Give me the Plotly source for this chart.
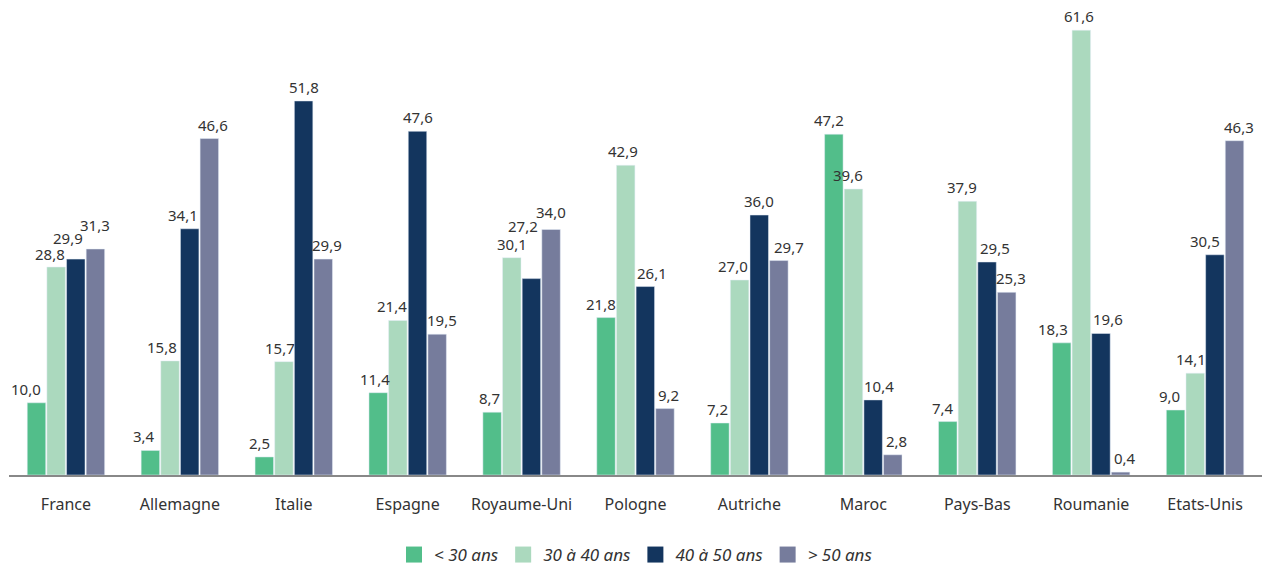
import plotly.graph_objects as go

countries = ["France", "Allemagne", "Italie", "Espagne", "Royaume-Uni", "Pologne",
             "Autriche", "Maroc", "Pays-Bas", "Roumanie", "Etats-Unis"]
under30 = [10.0, 3.4, 2.5, 11.4, 8.7, 21.8, 7.2, 47.2, 7.4, 18.3, 9.0]
from30to40 = [28.8, 15.8, 15.7, 21.4, 30.1, 42.9, 27.0, 39.6, 37.9, 61.6, 14.1]
from40to50 = [29.9, 34.1, 51.8, 47.6, 27.2, 26.1, 36.0, 10.4, 29.5, 19.6, 30.5]
over50 = [31.3, 46.6, 29.9, 19.5, 34.0, 9.2, 29.7, 2.8, 25.3, 0.4, 46.3]

series_names = ["< 30 ans", "30 à 40 ans", "40 à 50 ans", "> 50 ans"]
series_values = [under30, from30to40, from40to50, over50]
colors = ["#52BE8A", "#ABD9BE", "#13355E", "#767C9C"]

# label nudges (pixels) per country, per series: horizontal and vertical
label_dx = {
    "France": [-10, -6, -8, 0], "Allemagne": [-6, -8, -7, 4], "Italie": [-5, -4, 0, 4],
    "Espagne": [-3, -6, 0, 5], "Royaume-Uni": [-3, 0, -8, 0], "Pologne": [-5, -3, 7, 4],
    "Autriche": [-2, -7, 0, 10], "Maroc": [-5, -5, 6, 4], "Pays-Bas": [-5, -5, 8, 4],
    "Roumanie": [-9, -2, 7, 4], "Etats-Unis": [-6, -4, -10, 4],
}
label_dy = {("France", 1): -1, ("France", 2): 7, ("France", 3): 10,
            ("Royaume-Uni", 2): 39, ("Royaume-Uni", 3): 4}

W, H = 1274, 568
ML, MR, MT, MB = 9, 12, 10, 93
BARGAP = 0.31
cat_px = (W - ML - MR) / len(countries)
slot_px = cat_px * (1 - BARGAP) / len(series_names)

def fmt(v):
    return f"{v:.1f}".replace(".", ",")

fig = go.Figure()
for name, vals, col in zip(series_names, series_values, colors):
    fig.add_trace(go.Bar(
        x=countries, y=vals, name=name, marker_color=col, showlegend=False,
        cliponaxis=False,
    ))
for name, col in zip(series_names, colors):
    fig.add_trace(go.Scatter(
        x=[None], y=[None], mode="markers", name=name,
        marker=dict(symbol="square", size=18, color=col),
    ))

annotations = []
for i, vals in enumerate(series_values):
    for c, v in zip(countries, vals):
        annotations.append(dict(
            x=c, y=v, xref="x", yref="y", text=fmt(v), showarrow=False,
            xanchor="center", yanchor="bottom",
            xshift=(i - 1.5) * slot_px + label_dx[c][i],
            yshift=2 + label_dy.get((c, i), 0),
            font=dict(size=15, color="#333333"),
        ))

fig.update_layout(
    width=W, height=H,
    margin=dict(l=ML, r=MR, t=MT, b=MB, autoexpand=False),
    plot_bgcolor="white", paper_bgcolor="white",
    barmode="group", bargap=BARGAP, bargroupgap=0.06,
    font=dict(family="Noto Sans, Open Sans, sans-serif", color="#333333"),
    showlegend=True,
    annotations=annotations,
    legend=dict(orientation="h", x=0.5, xanchor="center",
                yref="container", y=13 / 568, yanchor="middle",
                font=dict(size=17, color="#333333", style="italic"),
                itemwidth=30, tracegroupgap=0, itemsizing="trace"),
)
fig.update_xaxes(showline=True, linecolor="#888888", linewidth=2,
                 ticks="outside", ticklen=14, tickcolor="rgba(0,0,0,0)",
                 tickfont=dict(size=16, color="#333333"), showgrid=False,
                 automargin=False)
fig.update_yaxes(range=[0, 64.4], visible=False, showgrid=False, zeroline=False,
                 automargin=False)

fig.write_html("out.html")
